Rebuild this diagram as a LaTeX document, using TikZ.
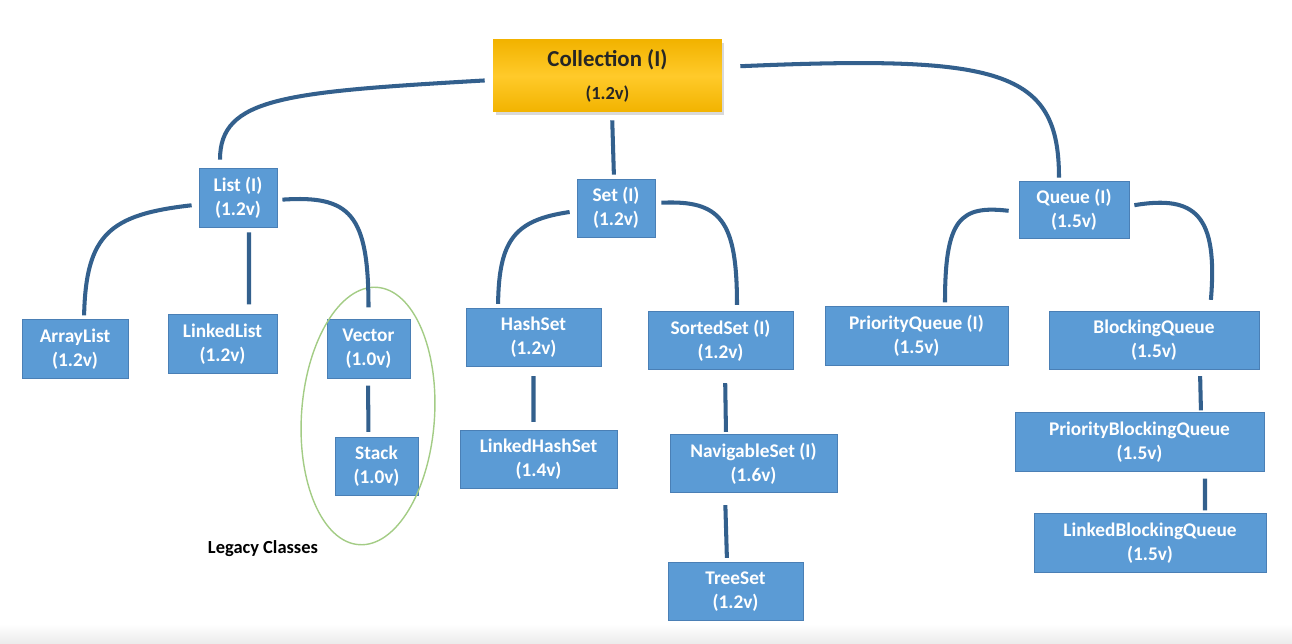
\documentclass[tikz,border=0pt]{standalone}
\usepackage{fontspec}
\setmainfont{Carlito}
\usetikzlibrary{shadows}

\definecolor{boxblue}{HTML}{5B9BD5}
\definecolor{boxedge}{HTML}{4A7FB5}
\definecolor{linkblue}{HTML}{33608D}
\definecolor{goldtop}{HTML}{F2B300}
\definecolor{goldmid}{HTML}{FFCA2A}
\definecolor{ringgreen}{HTML}{A3CC85}

\begin{document}
\begin{tikzpicture}[x=0.02cm,y=-0.02cm,
    cls/.style={draw=boxedge,line width=0.5pt,fill=boxblue,text=white,align=center,inner sep=0pt,
        minimum height=1.17cm,font=\fontsize{11}{13.5}\selectfont\bfseries},
    link/.style={draw=linkblue,line width=2.3pt},
    ring/.style={draw=ringgreen,line width=0.8pt}]
        \useasboundingbox (0,0) rectangle (1292,644);
        \fill[top color=white,bottom color=black!8] (0,624) rectangle (1292,644);

        \node[top color=goldtop,bottom color=goldtop,middle color=goldmid,text=black!85,align=center,inner sep=0pt,
            minimum width=4.58cm,minimum height=1.44cm,drop shadow={opacity=0.3,shadow xshift=0.05cm,shadow yshift=-0.07cm}]
            (coll) at (607.5,76) {\fontsize{13}{15}\selectfont\bfseries Collection (I)\\[7pt]\fontsize{10.5}{13}\selectfont\bfseries (1.2v)};

        \node[cls,minimum width=1.56cm,minimum height=1.18cm] (list) at (238,197.5) {List (I)\\(1.2v)};
        \node[cls,minimum width=1.56cm,minimum height=1.16cm] (set) at (616,208) {Set (I)\\(1.2v)};
        \node[cls,minimum width=2.2cm,minimum height=1.14cm] (queue) at (1074,209.5) {Queue (I)\\(1.5v)};

        \node[cls,minimum width=2.12cm] (alist) at (75,349) {ArrayList\\(1.2v)};
        \node[cls,minimum width=2.18cm] (llist) at (222.5,344) {LinkedList\\(1.2v)};
        \node[cls,minimum width=1.66cm] (vector) at (368.5,349) {Vector\\(1.0v)};
        \node[cls,minimum width=1.66cm] (stack) at (376.5,466.5) {Stack\\(1.0v)};

        \node[cls,minimum width=2.7cm] (hset) at (533.5,337.5) {HashSet\\(1.2v)};
        \node[cls,minimum width=2.9cm] (sset) at (720.5,340.5) {SortedSet (I)\\(1.2v)};
        \node[cls,minimum width=3.14cm] (lhset) at (538.5,459.5) {LinkedHashSet\\(1.4v)};
        \node[cls,minimum width=3.34cm] (nset) at (753.5,463.5) {NavigableSet (I)\\(1.6v)};
        \node[cls,minimum width=2.7cm] (tset) at (735.5,591.5) {TreeSet\\(1.2v)};

        \node[cls,minimum width=3.66cm] (pq) at (916.5,336) {PriorityQueue (I)\\(1.5v)};
        \node[cls,minimum width=4.2cm] (bq) at (1154,340.5) {BlockingQueue\\(1.5v)};
        \node[cls,minimum width=4.98cm] (pbq) at (1139.5,442) {PriorityBlockingQueue\\(1.5v)};
        \node[cls,minimum width=4.64cm] (lbq) at (1150,543) {LinkedBlockingQueue\\(1.5v)};

        % legacy group
        \draw[ring,rotate around={-4:(368,416)}] (368,416) ellipse [x radius=1.33cm,y radius=2.58cm];
        \node[font=\fontsize{10.5}{13}\selectfont\bfseries] (legacy) at (263,549) {Legacy Classes};

        % top level
        \draw[link,shorten <=0.16cm,shorten >=0.16cm] ([yshift=-0.08cm]coll.west) .. controls +(-208,12) and +(0,-70) .. ([xshift=-0.36cm]list.north);
        \draw[link,shorten <=0.16cm,shorten >=0.08cm] ([xshift=0.09cm]coll.south) -- ([xshift=-0.04cm]set.north);
        \draw[link,shorten <=0.36cm,shorten >=0.06cm] ([yshift=0.18cm]coll.east) .. controls +(278,-12) and +(0,-111) .. ([xshift=-0.3cm]queue.north);

        % list branch
        \draw[link,shorten <=0.14cm,shorten >=0.08cm] ([yshift=-0.14cm]list.west) .. controls +(-89,10) and +(2,-85) .. ([xshift=0.18cm]alist.north);
        \draw[link,shorten <=0.1cm,shorten >=0.2cm] ([xshift=0.22cm]list.south) -- ([xshift=0.53cm]llist.north);
        \draw[link,shorten <=0.1cm,shorten >=0.24cm] ([yshift=-0.05cm]list.east) .. controls +(73,-5) and +(0,-105) .. (vector.north);
        \draw[link,shorten <=0.14cm,shorten >=0.1cm] ([xshift=-0.01cm]vector.south) -- ([xshift=-0.16cm]stack.north);

        % set branch
        \draw[link,shorten <=0.14cm,shorten >=0.08cm] ([yshift=-0.06cm]set.west) .. controls +(-62,9) and +(1,-68) .. ([xshift=-0.71cm]hset.north);
        \draw[link,shorten <=0.12cm,shorten >=0.12cm] ([yshift=0.1cm]set.east) .. controls +(65,-3) and +(0,-91) .. ([xshift=0.33cm]sset.north);
        \draw[link,shorten <=0.18cm,shorten >=0.16cm] (hset.south) -- ([xshift=-0.1cm]lhset.north);
        \draw[link,shorten <=0.26cm,shorten >=0.04cm] ([xshift=0.09cm]sset.south) -- ([xshift=-0.55cm]nset.north);
        \draw[link,shorten <=0.24cm,shorten >=0.08cm] ([xshift=-0.57cm]nset.south) -- ([xshift=-0.17cm]tset.north);

        % queue branch
        \draw[link,shorten <=0.2cm,shorten >=0.08cm] ([yshift=-0.05cm]queue.west) .. controls +(-59,-7) and +(0,-87) .. ([xshift=0.57cm]pq.north);
        \draw[link,shorten <=0.1cm,shorten >=0.22cm] ([yshift=0.07cm]queue.east) .. controls +(66,-11) and +(8,-96) .. ([xshift=1.12cm]bq.north);
        \draw[link,shorten <=0.12cm,shorten >=0.04cm] ([xshift=0.92cm]bq.south) -- ([xshift=1.23cm]pbq.north);
        \draw[link,shorten <=0.14cm,shorten >=0.06cm] ([xshift=1.31cm]pbq.south) -- ([xshift=1.1cm]lbq.north);
    \end{tikzpicture}
\end{document}
